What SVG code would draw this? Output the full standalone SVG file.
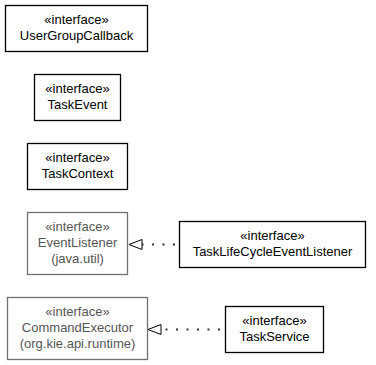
<svg xmlns="http://www.w3.org/2000/svg" width="376" height="365" viewBox="0 0 376 365">
  <style>
    .box { fill: #ffffff; stroke: #000000; stroke-width: 1.3; }
    .ext { fill: #ffffff; stroke: #707070; stroke-width: 1.3; }
    text { font-family: "Liberation Sans", Arial, sans-serif; font-size: 13px; text-anchor: middle; fill: #000000; }
    .ext-text { fill: #555555; }
    .rel { fill: none; stroke: #333333; stroke-width: 2; stroke-dasharray: 2,8.5; }
    .head { fill: #ffffff; stroke: #000000; stroke-width: 1; }
  </style>

  <rect width="376" height="365" fill="#ffffff"/>

  <g id="UserGroupCallback">
    <rect class="box" x="5.5" y="5.5" width="142" height="46"/>
    <text x="76.5" y="24">«interface»</text>
    <text x="76.5" y="40">UserGroupCallback</text>
  </g>

  <g id="TaskEvent">
    <rect class="box" x="34.5" y="74.5" width="86" height="46"/>
    <text x="77.5" y="93">«interface»</text>
    <text x="77.5" y="109">TaskEvent</text>
  </g>

  <g id="TaskContext">
    <rect class="box" x="27.5" y="143.5" width="100" height="46"/>
    <text x="77.5" y="162">«interface»</text>
    <text x="77.5" y="178">TaskContext</text>
  </g>

  <g id="EventListener">
    <rect class="ext" x="27.5" y="212.5" width="100" height="62"/>
    <text class="ext-text" x="77.5" y="231">«interface»</text>
    <text class="ext-text" x="77.5" y="247">EventListener</text>
    <text class="ext-text" x="77.5" y="263">(java.util)</text>
  </g>

  <g id="TaskLifeCycleEventListener">
    <rect class="box" x="179.5" y="221.5" width="186" height="46"/>
    <text x="272.5" y="240">«interface»</text>
    <text x="272.5" y="256">TaskLifeCycleEventListener</text>
  </g>

  <g id="CommandExecutor">
    <rect class="ext" x="7.5" y="297.5" width="140" height="62"/>
    <text class="ext-text" x="77.5" y="316">«interface»</text>
    <text class="ext-text" x="77.5" y="332">CommandExecutor</text>
    <text class="ext-text" x="77.5" y="348">(org.kie.api.runtime)</text>
  </g>

  <g id="TaskService">
    <rect class="box" x="225.5" y="306.5" width="98" height="46"/>
    <text x="274.5" y="325">«interface»</text>
    <text x="274.5" y="341">TaskService</text>
  </g>

  <g id="connectors">
    <!-- TaskLifeCycleEventListener realizes EventListener -->
    <path class="rel" d="M175,244.5 H142"/>
    <path class="head" d="M129,244.5 L142,239.5 L142,249.5 Z"/>
    <!-- TaskService realizes CommandExecutor -->
    <path class="rel" d="M220,329.5 H161"/>
    <path class="head" d="M148,329.5 L161,324.5 L161,334.5 Z"/>
  </g>
</svg>
